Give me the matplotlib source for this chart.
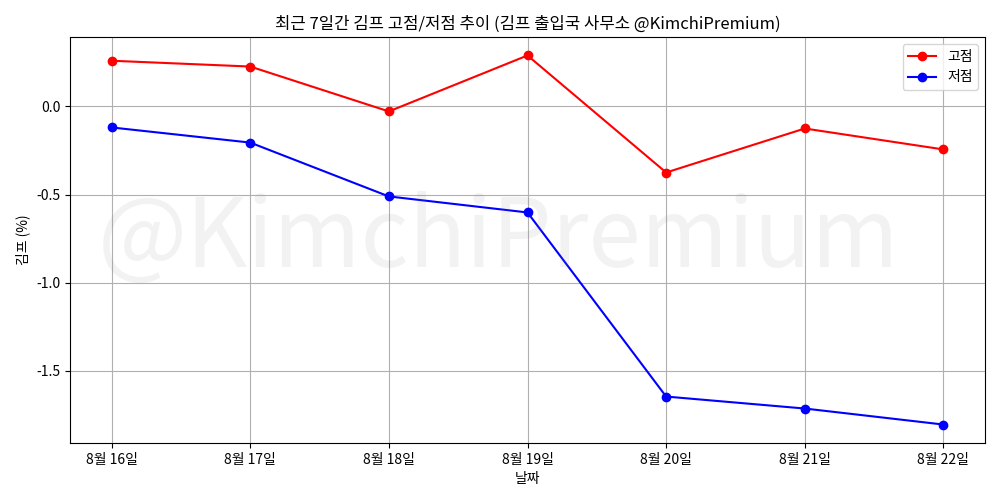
import matplotlib
matplotlib.use("Agg")
import matplotlib.pyplot as plt

plt.rcParams['font.family'] = ['Noto Sans CJK KR', 'DejaVu Sans']
plt.rcParams['axes.unicode_minus'] = False

dates = ['8월 16일', '8월 17일', '8월 18일', '8월 19일', '8월 20일', '8월 21일', '8월 22일']
high = [0.26, 0.227, -0.028, 0.29, -0.375, -0.125, -0.244]
low = [-0.119, -0.205, -0.511, -0.602, -1.648, -1.716, -1.807]

fig, ax = plt.subplots(figsize=(10, 5), dpi=100)
x = range(len(dates))
ax.plot(x, high, 'o-', color='red', label='고점')
ax.plot(x, low, 'o-', color='blue', label='저점')
ax.set_xticks(list(x))
ax.set_xticklabels(dates)
ax.set_title('최근 7일간 김프 고점/저점 추이 (김프 출입국 사무소 @KimchiPremium)')
ax.set_xlabel('날짜')
ax.set_ylabel('김프 (%)')
ax.grid(True)
ax.legend(loc='upper right')
ax.text(0.468, 0.5, '@KimchiPremium', transform=ax.transAxes, fontsize=68,
        fontweight='light', color='gray', alpha=0.1, ha='center', va='center')
fig.subplots_adjust(left=0.07, right=0.985, top=0.926, bottom=0.114)
fig.savefig('out.png')
